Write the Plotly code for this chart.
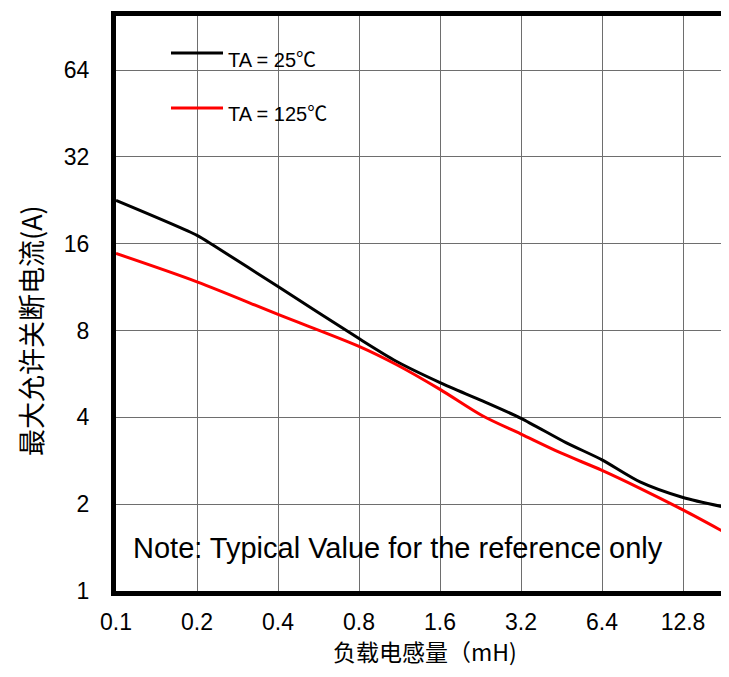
import plotly.graph_objects as go

# Data (log-log chart)
x_25C = [0.1, 0.2, 0.23, 0.4, 0.8, 1.1, 1.6, 2.3, 3.2, 4.7, 6.4, 8.86, 12.8, 18.9]
current_25C = [22.6, 17.1, 15.8, 11.36, 7.5, 6.26, 5.28, 4.56, 3.97, 3.27, 2.85, 2.39, 2.11, 1.94]
x_125C = [0.1, 0.2, 0.4, 0.8, 1.1, 1.6, 2.3, 3.2, 4.5, 6.4, 8.86, 12.8, 18.9]
current_125C = [14.8, 11.8, 9.1, 7.05, 6.1, 5.0, 4.05, 3.5, 3.01, 2.62, 2.27, 1.91, 1.57]

x_ticks = [0.1, 0.2, 0.4, 0.8, 1.6, 3.2, 6.4, 12.8]
x_ticktext = ["0.1", "0.2", "0.4", "0.8", "1.6", "3.2", "6.4", "12.8"]
y_ticks = [1, 2, 4, 8, 16, 32, 64]
y_ticktext = ["1", "2", "4", "8", "16", "32", "64"]

legend_names = ["TA = 25℃", "TA = 125℃"]
note_text = "Note: Typical Value for the reference only"
x_title = "负载电感量（mH)"
y_title = "最大允许关断电流(A)"

LATIN = "Liberation Sans, Arial, Noto Sans CJK SC, sans-serif"
CJK = "Noto Sans CJK SC, Noto Sans, sans-serif"

fig = go.Figure()
fig.add_trace(go.Scatter(x=x_25C, y=current_25C, mode="lines",
                         line=dict(color="black", width=3, shape="spline", smoothing=0.7),
                         name=legend_names[0], showlegend=False))
fig.add_trace(go.Scatter(x=x_125C, y=current_125C, mode="lines",
                         line=dict(color="#ff0000", width=3, shape="spline", smoothing=0.9),
                         name=legend_names[1], showlegend=False))

# page has an 8px body margin; keep the figure inside the visible body box
W, H = 713, 661
L, R, T, B = 108, 0, 8, 78
# plot area in page pixels: x 116..721, y 16..591
PX0, PX1, PY0, PY1 = 116, 721, 16, 591

def ppx(x):
    return (x - PX0) / (PX1 - PX0)

def ppy(y):
    return (PY1 - y) / (PY1 - PY0)

shapes = [
    dict(type="rect", xref="paper", yref="paper", x0=ppx(132), x1=ppx(369), y0=ppy(135), y1=ppy(27),
         fillcolor="white", line=dict(width=0), layer="between"),
    dict(type="rect", xref="paper", yref="paper", x0=ppx(118), x1=ppx(675), y0=ppy(575), y1=ppy(522),
         fillcolor="white", line=dict(width=0), layer="between"),
    dict(type="line", xref="paper", yref="paper", x0=ppx(171), x1=ppx(223), y0=ppy(53), y1=ppy(53),
         line=dict(color="black", width=3)),
    dict(type="line", xref="paper", yref="paper", x0=ppx(171), x1=ppx(223), y0=ppy(108), y1=ppy(108),
         line=dict(color="#ff0000", width=3)),
]

annotations = [
    dict(xref="paper", yref="paper", x=ppx(226), y=ppy(60), text=legend_names[0], showarrow=False,
         xanchor="left", yanchor="middle", font=dict(family=LATIN, size=20, color="black")),
    dict(xref="paper", yref="paper", x=ppx(226), y=ppy(114), text=legend_names[1], showarrow=False,
         xanchor="left", yanchor="middle", font=dict(family=LATIN, size=20, color="black")),
    dict(xref="paper", yref="paper", x=ppx(131), y=ppy(548), text=note_text, showarrow=False,
         xanchor="left", yanchor="middle", font=dict(family=LATIN, size=29, color="black")),
    dict(xref="paper", yref="paper", x=ppx(425), y=ppy(651), text=x_title, showarrow=False,
         xanchor="center", yanchor="middle", font=dict(family=CJK, size=23, color="black")),
    dict(xref="paper", yref="paper", x=ppx(31), y=ppy(331), text=y_title, showarrow=False,
         textangle=-90, xanchor="center", yanchor="middle", font=dict(family=CJK, size=27, color="black")),
]

fig.update_layout(
    width=W, height=H,
    margin=dict(l=L, r=R, t=T, b=B),
    paper_bgcolor="white", plot_bgcolor="white",
    font=dict(family=LATIN, size=22, color="black"),
    shapes=shapes, annotations=annotations,
    showlegend=False,
)

fig.update_xaxes(
    type="log", range=[-1, 1.2484],
    tickvals=x_ticks, ticktext=x_ticktext,
    showgrid=True, gridcolor="#6e6e6e", gridwidth=1,
    showline=True, linecolor="black", linewidth=5, mirror=True,
    ticks="", ticklabelstandoff=6,
    tickfont=dict(family=LATIN, size=23, color="black"),
    zeroline=False,
)
fig.update_yaxes(
    type="log", range=[0, 1.9935],
    tickvals=y_ticks, ticktext=y_ticktext,
    showgrid=True, gridcolor="#6e6e6e", gridwidth=1,
    showline=True, linecolor="black", linewidth=5, mirror=False,
    ticks="", ticklabelstandoff=17,
    tickfont=dict(family=LATIN, size=23, color="black"),
    zeroline=False,
)

fig.write_html("out.html")
